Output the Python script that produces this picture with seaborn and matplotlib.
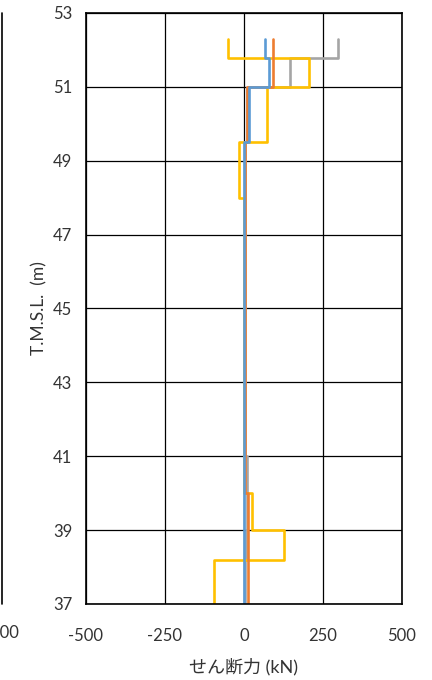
import numpy as np
import matplotlib
matplotlib.use("Agg")
import matplotlib.pyplot as plt
from matplotlib.lines import Line2D
import seaborn as sns

# elevation breaks (m) and shear per segment (kN) for each case
levels = [52.3, 51.78, 51.0, 49.5, 48.0, 41.0, 40.0, 39.0, 38.2, 37.0]
shear_gray = [298, 146, 10, 3, 3, 10, 8, 5, 2]
shear_yellow = [-50, 205, 72, -16, 0, 0, 24, 128, -95]
shear_orange = [91, 91, 8, 3, 3, 3, 12, 12, 12]
shear_blue = [68, 79, 15, 0, 0, 0, 0, 0, 0]

x_ticks = [-500, -250, 0, 250, 500]
y_ticks = [37, 39, 41, 43, 45, 47, 49, 51, 53]

sns.set_style("white")
plt.rcParams['font.family'] = ['Lato', 'Noto Sans CJK JP', 'DejaVu Sans']
plt.rcParams['axes.unicode_minus'] = False

fig = plt.figure(figsize=(4.32, 6.8), dpi=100)
ax = fig.add_axes([0.199, 0.1118, 0.7316, 0.8691])


def step(vals):
    y = np.repeat(levels, 2)[1:-1]
    x = np.repeat(vals, 2)
    return x, y


series = [(shear_gray, '#A5A5A5'), (shear_yellow, '#FFC000'),
          (shear_orange, '#ED7D31'), (shear_blue, '#5B9BD5')]
for vals, col in series:
    x, y = step(vals)
    sns.lineplot(x=x, y=y, sort=False, estimator=None, color=col,
                 linewidth=1.9, ax=ax)

ax.set_xlim(-500, 500)
ax.set_ylim(37, 53)
ax.set_xticks(x_ticks)
ax.set_yticks(y_ticks)
ax.grid(True, color='black', linewidth=0.9)
ax.set_axisbelow(True)
for s in ax.spines.values():
    s.set_color('black')
    s.set_linewidth(1.2)
ax.tick_params(axis='both', length=0, labelsize=12, colors='#333333')
ax.tick_params(axis='x', pad=17)
ax.tick_params(axis='y', pad=10)
ax.set_xlabel('せん断力 (kN)', fontsize=13, color='#333333', labelpad=10)
ax.set_ylabel('T.M.S.L.  (m)', fontsize=12.5, color='#333333', labelpad=4)

# edge of the neighbouring chart, cut off at the left
fig.add_artist(Line2D([0.004, 0.004], [0.1118, 0.9809], color='black', lw=1.2))
fig.text(0.044, 0.069, '500', ha='right', va='center', fontsize=12, color='#333333')

fig.savefig('out.png', dpi=100)
